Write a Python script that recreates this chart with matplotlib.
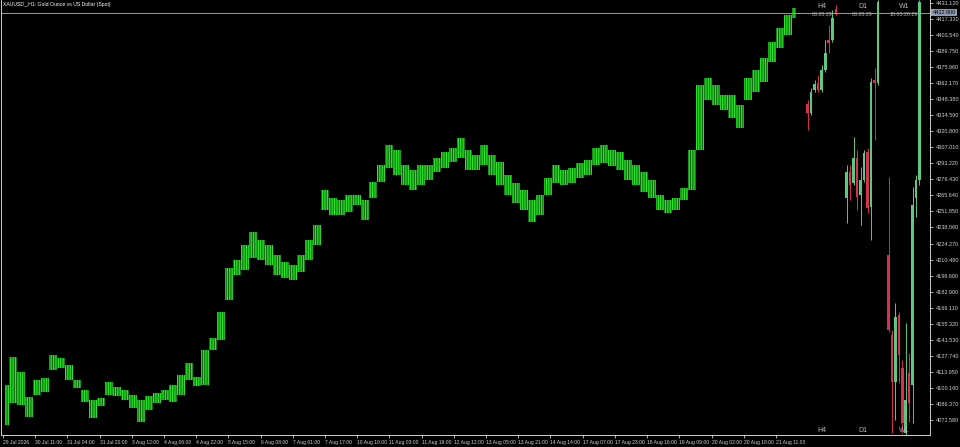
import numpy as np
import matplotlib
matplotlib.use("Agg")
import matplotlib.pyplot as plt
import matplotlib.transforms as mtransforms

plt.rcParams['font.family'] = ['Liberation Sans', 'DejaVu Sans']
plt.rcParams['hatch.linewidth'] = 0.9

title_text = "XAUUSD_,H1: Gold Ounce vs US Dollar (Spot)"

# main H1 price path (4-hour chunks, high / low)
bar_high = [4102.6, 4126.7, 4113.8, 4092.3, 4106.9, 4108.6, 4128.4, 4125.8, 4119.8, 4106.9,
            4098.3, 4089.7, 4091.4, 4105.2, 4100.9, 4098.3, 4094.0, 4089.7, 4093.1, 4095.7,
            4098.3, 4102.6, 4111.2, 4121.5, 4109.5, 4132.7, 4143.0, 4165.4, 4203.2, 4210.1,
            4223.0, 4234.2, 4227.3, 4223.0, 4214.4, 4208.4, 4205.8, 4214.4, 4227.3, 4240.2,
            4270.3, 4263.4, 4261.7, 4266.0, 4266.0, 4261.7, 4277.2, 4291.8, 4309.0, 4304.7,
            4291.8, 4287.5, 4291.8, 4291.8, 4297.8, 4303.0, 4306.4, 4315.0, 4304.7, 4300.4,
            4309.0, 4300.4, 4294.4, 4283.2, 4276.3, 4270.3, 4261.7, 4266.0, 4280.6, 4291.8,
            4287.5, 4289.2, 4293.5, 4296.1, 4306.4, 4309.0, 4304.7, 4303.0, 4296.1, 4291.8,
            4285.8, 4278.9, 4266.0, 4261.7, 4263.4, 4272.0, 4304.7, 4360.6, 4366.6, 4360.6,
            4352.0, 4352.0, 4343.4, 4366.6, 4373.5, 4383.8, 4397.6, 4409.6, 4420.8, 4426.8]
bar_low = [4068.2, 4087.1, 4085.4, 4075.1, 4094.0, 4096.6, 4115.5, 4117.2, 4106.9, 4100.0,
           4088.0, 4074.2, 4084.5, 4094.0, 4093.1, 4089.7, 4082.8, 4070.8, 4081.1, 4087.1,
           4089.7, 4088.0, 4094.0, 4106.9, 4101.7, 4102.6, 4132.7, 4141.3, 4175.7, 4197.2,
           4201.5, 4211.8, 4210.1, 4205.8, 4197.2, 4194.6, 4192.9, 4199.8, 4210.1, 4223.0,
           4253.1, 4248.8, 4248.8, 4251.4, 4257.4, 4244.5, 4263.4, 4277.2, 4289.2, 4283.2,
           4274.6, 4270.3, 4274.6, 4278.9, 4285.8, 4289.2, 4294.4, 4297.8, 4287.5, 4287.5,
           4291.8, 4283.2, 4274.6, 4266.0, 4259.1, 4253.1, 4242.8, 4248.8, 4266.0, 4276.3,
           4274.6, 4276.3, 4280.6, 4283.2, 4291.8, 4293.5, 4290.9, 4287.5, 4278.9, 4274.6,
           4268.6, 4263.4, 4253.1, 4250.5, 4253.1, 4261.7, 4270.3, 4304.7, 4347.7, 4343.4,
           4339.1, 4332.2, 4323.6, 4347.7, 4354.6, 4363.2, 4380.4, 4392.4, 4403.6, 4418.2]
last_price = 4422.9

time_labels = ["29 Jul 2026", "30 Jul 11:00", "31 Jul 04:00", "31 Jul 20:00", "3 Aug 12:00",
               "4 Aug 06:00", "4 Aug 22:00", "5 Aug 15:00", "6 Aug 08:00", "7 Aug 01:00",
               "7 Aug 17:00", "10 Aug 10:00", "11 Aug 03:00", "11 Aug 19:00", "12 Aug 12:00",
               "13 Aug 05:00", "13 Aug 21:00", "14 Aug 14:00", "17 Aug 07:00", "17 Aug 23:00",
               "18 Aug 16:00", "19 Aug 09:00", "20 Aug 02:00", "20 Aug 18:00", "21 Aug 11:00"]

price_ticks = [4072.58, 4086.37, 4100.16, 4113.95, 4127.74, 4141.53, 4155.32, 4169.11,
               4182.90, 4196.69, 4210.48, 4224.27, 4238.06, 4251.85, 4265.64, 4279.43,
               4293.22, 4307.01, 4320.80, 4334.59, 4348.38, 4362.17, 4375.96, 4389.75,
               4403.54, 4417.33, 4431.12]

# multi-timeframe candles (indicator)
h4_open = [4344.3, 4336.5, 4356.3, 4362.3, 4356.3, 4373.5, 4399.3, 4399.3, 4426.0]
h4_close = [4336.5, 4354.6, 4361.5, 4356.3, 4373.5, 4388.1, 4396.7, 4418.2, 4422.5]
h4_high = [4347.7, 4358.0, 4364.9, 4369.2, 4377.8, 4399.3, 4412.2, 4425.1, 4429.4]
h4_low = [4321.9, 4334.8, 4354.6, 4354.6, 4354.6, 4371.8, 4388.1, 4397.6, 4420.8]

d1_open = [4263.4, 4285.8, 4276.3, 4297.8, 4266.0, 4278.9, 4303.0, 4255.7, 4364.9, 4362.3]
d1_close = [4285.8, 4274.6, 4297.8, 4264.3, 4278.9, 4302.1, 4254.8, 4363.2, 4362.3, 4432.0]
d1_high = [4291.8, 4291.8, 4315.9, 4304.7, 4290.1, 4304.7, 4306.4, 4366.6, 4375.2, 4433.7]
d1_low = [4241.9, 4261.7, 4274.6, 4253.1, 4240.2, 4277.2, 4250.5, 4227.3, 4313.3, 4360.6]

w1_open = [4214.4, 4145.6, 4105.2, 4162.8, 4117.2, 4061.3, 4112.9, 4102.6, 4263.4, 4278.9]
w1_close = [4149.9, 4105.2, 4161.1, 4128.4, 4069.9, 4089.7, 4087.1, 4257.4, 4278.9, 4432.0]
w1_high = [4281.5, 4149.9, 4173.1, 4165.4, 4124.1, 4155.9, 4130.1, 4272.9, 4283.2, 4433.7]
w1_low = [4148.2, 4061.3, 4072.5, 4104.3, 4061.3, 4059.6, 4070.8, 4069.9, 4247.1, 4274.6]

tf_names = ["H4", "D1", "W1"]
tf_dates = ["03.20.29", "03.20.29", "18.03.20.29"]

BG = "black"
FG = "#cfcfcf"
BAR = "#2ae62a"
BAR_DIM = "#0c6a0c"
UP = "#5cc882"
DN = "#d8304e"

fig = plt.figure(figsize=(9.6, 4.47), dpi=100, facecolor=BG)
ax = fig.add_axes([1 / 960, 12 / 447, 929 / 960, 435 / 447], facecolor=BG)

x = np.arange(len(bar_high))
ax.fill_between(x, bar_low, bar_high, step="mid", facecolor=BAR_DIM, edgecolor=BAR,
                hatch="|||||||", linewidth=0)

def candles(pos, o, c, h, l):
    o = np.array(o); c = np.array(c)
    cols = [UP if cc >= oo else DN for oo, cc in zip(o, c)]
    ax.vlines(pos, l, h, colors=cols, linewidth=0.7)
    ax.bar(pos, c - o, bottom=o, width=0.32, color=cols, linewidth=0)

n = len(bar_high)
h4_pos = n + 0.44 + np.arange(len(h4_open)) * 0.44
d1_pos = n + 5.31 + np.arange(len(d1_open)) * 0.44
w1_pos = n + 10.56 + np.arange(len(w1_open)) * 0.43
candles(h4_pos, h4_open, h4_close, h4_high, h4_low)
candles(d1_pos, d1_open, d1_close, d1_high, d1_low)
candles(w1_pos, w1_open, w1_close, w1_high, w1_low)

ax.axhline(last_price, color="#9a9a9a", linewidth=0.7)

ymax = 4433.7
ymin = ymax - 0.86 * 435
ax.set_ylim(ymin, ymax)
ax.set_xlim(-0.5, 115.75)

ax.spines["top"].set_visible(False)
for s in ["left", "bottom", "right"]:
    ax.spines[s].set_color(FG)
    ax.spines[s].set_linewidth(0.7)

ax.yaxis.tick_right()
ax.set_yticks(price_ticks)
ax.set_yticklabels([f"{v:.3f}" for v in price_ticks])
ax.tick_params(axis="y", colors=FG, labelsize=4.0, length=2.5, width=0.6, pad=1.5)

tick_pos = np.arange(len(time_labels)) * 4.03 - 0.25
ax.set_xticks(tick_pos)
ax.set_xticklabels(time_labels, ha="left")
ax.tick_params(axis="x", colors=FG, labelsize=3.6, length=2.5, width=0.6, pad=0.8)

tr = mtransforms.blended_transform_factory(ax.transAxes, ax.transData)
ax.text(1.003, last_price, f"{last_price:.3f}", transform=tr, fontsize=4.0,
        color="black", va="center", ha="left",
        bbox=dict(boxstyle="square,pad=0.25", fc="#8d9bb3", ec="none"))

fig.text(3 / 960, 1 - 2 / 447, title_text, fontsize=3.7, color="white", va="top", ha="left")

trx = mtransforms.blended_transform_factory(ax.transData, fig.transFigure)
centers = [h4_pos.mean(), d1_pos.mean(), w1_pos.mean()]
for cx, name, dt in zip(centers, tf_names, tf_dates):
    fig.text(cx, 1 - 3 / 447, name, transform=trx, fontsize=5, color="#b8b8b8",
             ha="center", va="top")
    fig.text(cx, 1 - 12.5 / 447, dt, transform=trx, fontsize=3.8, color="#b8b8b8",
             ha="center", va="top")
    fig.text(cx, 1 - 427 / 447, name, transform=trx, fontsize=5, color="#b8b8b8",
             ha="center", va="top")

fig.savefig("out.png", dpi=100, facecolor=BG)
